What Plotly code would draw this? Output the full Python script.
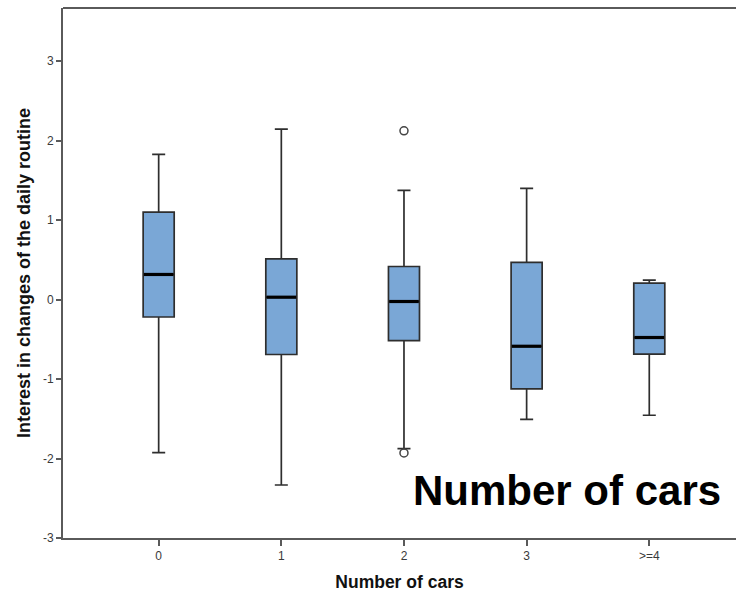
import plotly.graph_objects as go

categories = ["0", "1", "2", "3", ">=4"]
positions = [0, 1, 2, 3, 4]
upper_whisker = [1.825, 2.143, 1.372, 1.397, 0.243]
q3 = [1.10, 0.511, 0.415, 0.466, 0.205]
median = [0.315, 0.029, -0.025, -0.588, -0.478]
q1 = [-0.22, -0.692, -0.516, -1.125, -0.688]
lower_whisker = [-1.926, -2.333, -1.875, -1.507, -1.456]
outlier_x = [2, 2]
outlier_y = [2.122, -1.93]
y_ticks = [-3, -2, -1, 0, 1, 2, 3]
y_tick_text = ["-3", "-2", "-1", "0", "1", "2", "3"]

BOX_W = 0.253
FILL = "#7AA7D6"
EDGE = "#2e2e2e"
AXIS = "#5a5a5a"
FONT = "Liberation Sans, Arial, sans-serif"

fig = go.Figure()
fig.add_trace(go.Box(
    x=positions, q1=q1, median=median, q3=q3,
    lowerfence=lower_whisker, upperfence=upper_whisker,
    width=BOX_W, whiskerwidth=0.42,
    fillcolor=FILL, line=dict(color=EDGE, width=1.7),
    boxpoints=False, showlegend=False, hoverinfo="skip",
))

mx, my = [], []
for p, m in zip(positions, median):
    mx += [p - BOX_W / 2 + 0.006, p + BOX_W / 2 - 0.006, None]
    my += [m, m, None]
fig.add_trace(go.Scatter(x=mx, y=my, mode="lines",
                         line=dict(color="black", width=3.2),
                         showlegend=False, hoverinfo="skip"))

fig.add_trace(go.Scatter(x=outlier_x, y=outlier_y, mode="markers",
                         marker=dict(symbol="circle-open", size=8,
                                     color="#444", line=dict(width=1.5)),
                         showlegend=False, hoverinfo="skip"))

fig.add_shape(type="line", xref="paper", yref="paper", x0=0, x1=1, y0=1, y1=1,
              line=dict(color=AXIS, width=2))

fig.add_annotation(text="<b>Number of cars</b>", x=3.33, y=-2.40,
                   xref="x", yref="y", showarrow=False,
                   font=dict(family=FONT, size=42, color="black"))

fig.update_layout(
    width=736, height=592,
    margin=dict(l=63, r=0, t=8, b=54),
    paper_bgcolor="white", plot_bgcolor="white",
    font=dict(family=FONT, color="#333"),
    xaxis=dict(range=[-0.78, 4.707], tickmode="array", tickvals=positions,
               ticktext=categories, showgrid=False, zeroline=False,
               showline=True, linecolor=AXIS, linewidth=2,
               ticks="outside", ticklen=6, tickwidth=1.5, tickcolor=AXIS,
               tickfont=dict(size=12, color="#3a3a3a"),
               title=dict(text="<b>Number of cars</b>",
                          font=dict(size=17.5, color="#111"), standoff=16)),
    yaxis=dict(range=[-3, 3.667], tickmode="array", tickvals=y_ticks,
               ticktext=y_tick_text,
               showgrid=False, zeroline=False,
               showline=True, linecolor=AXIS, linewidth=2,
               ticks="outside", ticklen=5, tickwidth=1.5, tickcolor=AXIS,
               tickfont=dict(size=12, color="#3a3a3a"),
               title=dict(text="<b>Interest in changes of the daily routine</b>",
                          font=dict(size=18, color="#111"), standoff=8)),
)

fig.write_html("out.html")
